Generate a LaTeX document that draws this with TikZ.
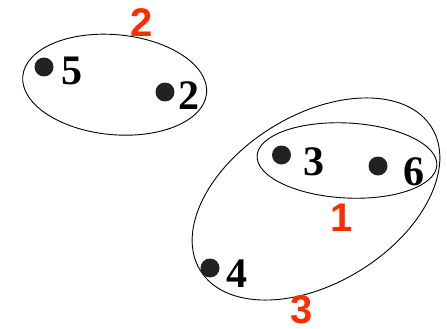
\documentclass[tikz,border=0pt]{standalone}
\usepackage{fontspec}
\setmainfont{Liberation Serif}
\newfontfamily\clusterfont{Liberation Sans}
\usetikzlibrary{positioning}

\definecolor{clusterred}{RGB}{255,45,0}
\definecolor{dotgray}{RGB}{34,34,34}

\tikzset{
  dot/.style={circle, fill=dotgray, inner sep=0pt, minimum size=19pt},
  num/.style={inner sep=0pt, font=\fontsize{42}{42}\selectfont\bfseries},
  clusternum/.style={inner sep=0pt, text=clusterred, font=\clusterfont\fontsize{40}{40}\selectfont\bfseries},
  hull/.style={draw=black, line width=0.9pt}
}

\begin{document}
\begin{tikzpicture}[x=1pt, y=-1pt]
		\useasboundingbox (0,0) rectangle (447,329);

		% 1. Cluster outlines
		% top left: points 5 and 2
		\coordinate (c2) at (114.7,84.7);
		\draw[hull, rotate around={-5.3:(c2)}] (c2) ellipse [x radius=92.3pt, y radius=50pt];
		% big tilted one: points 3, 6 and 4
		\coordinate (c3) at (316,199);
		\draw[hull, rotate around={31.7:(c3)}] (c3) ellipse [x radius=136pt, y radius=84pt];
		% inner one: points 3 and 6
		\coordinate (c1) at (347,160.5);
		\draw[hull, rotate around={-3:(c1)}] (c1) ellipse [x radius=90pt, y radius=37.5pt];

		% 2. Data points
		\node[dot] (p5) at (44,67) {};
		\node[dot] (p2) at (165,92) {};
		\node[dot] (p3) at (281.5,155) {};
		\node[dot] (p6) at (378,166) {};
		\node[dot] (p4) at (210,268) {};

		% 3. Point labels
		\node[num] (n5) at (72,71) {5};
		\node[num] (n2) at (189,96) {2};
		\node[num] (n3) at (314,162) {3};
		\node[num] (n6) at (414,172) {6};
		\node[num] (n4) at (237,274) {4};

		% 4. Cluster numbers
		\node[clusternum] (k2) at (142,22.5) {2};
		\node[clusternum] (k1) at (341.5,218) {1};
		\node[clusternum] (k3) at (302,310) {3};
	\end{tikzpicture}
\end{document}
